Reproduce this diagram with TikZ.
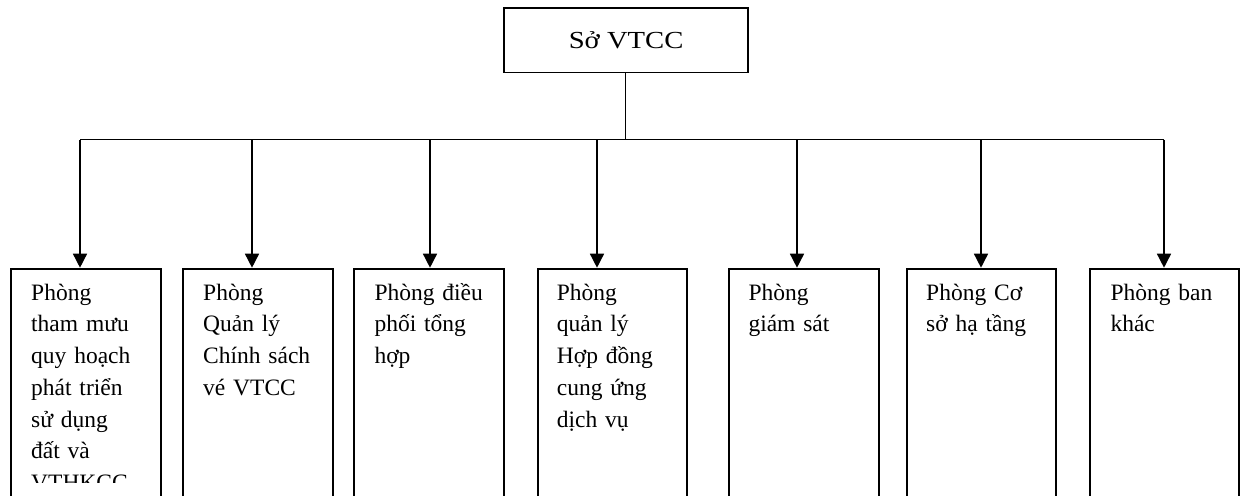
\documentclass[tikz,border=0pt]{standalone}
\usepackage{fontspec}
\setmainfont{Liberation Serif}
\usetikzlibrary{arrows.meta,calc}

\tikzset{
  unitbox/.style={draw, line width=2pt, inner sep=0pt, anchor=north west,
    minimum width=150pt, minimum height=228pt},
  headbox/.style={draw, line width=1.6pt, inner sep=0pt, anchor=north west,
    minimum width=244pt, minimum height=64.5pt,
    font=\fontsize{24.5pt}{31.7pt}\selectfont},
  unittext/.style={inner sep=0pt, anchor=base west, text width=125pt, align=left,
    font=\fontsize{23.5pt}{31.7pt}\selectfont},
  wire/.style={line width=1.5pt},
  feed/.style={line width=1.5pt, -{Triangle[width=14pt,length=14pt]}},
}

\begin{document}
\begin{tikzpicture}[x=1pt, y=-1pt]
  \useasboundingbox (0,0) rectangle (1244,495);
  \clip (0,0) rectangle (1244,495);

  % head office
  \node[headbox] (head) at (503.3,7.3) {\scalebox{1.17}[1]{Sở VTCC}};

  % departments
  \node[unitbox] (b1) at (10,267.7) {};
  \node[unitbox] (b2) at (182,267.7) {};
  \node[unitbox] (b3) at (353.3,267.7) {};
  \node[unitbox, minimum width=149.3pt] (b4) at (536.7,267.7) {};
  \node[unitbox] (b5) at (728.3,267.7) {};
  \node[unitbox, minimum width=149.3pt] (b6) at (906,267.7) {};
  \node[unitbox, minimum width=148.7pt] (b7) at (1089.3,267.7) {};

  % department names
  \begin{scope}
    \clip (0,0) rectangle (1244,482);
    \node[unittext] (t1) at ($(b1.north west)+(21,32.5)$)
      {Phòng\\tham mưu\\quy hoạch\\phát triển\\sử dụng\\đất và\\VTHKCC};
  \end{scope}
  \node[unittext] (t2) at ($(b2.north west)+(21,32.5)$)
    {Phòng\\Quản lý\\Chính sách\\vé VTCC};
  \node[unittext] (t3) at ($(b3.north west)+(21,32.5)$)
    {Phòng điều\\phối tổng\\hợp};
  \node[unittext] (t4) at ($(b4.north west)+(20,32.5)$)
    {Phòng\\quản lý\\Hợp đồng\\cung ứng\\dịch vụ};
  \node[unittext] (t5) at ($(b5.north west)+(20,32.5)$)
    {Phòng\\giám sát};
  \node[unittext] (t6) at ($(b6.north west)+(20,32.5)$)
    {Phòng Cơ\\sở hạ tầng};
  \node[unittext] (t7) at ($(b7.north west)+(21,32.5)$)
    {Phòng ban\\khác};

  % arrow entry points on the department tops
  \coordinate (a1) at (80,267.7);
  \coordinate (a2) at (252,267.7);
  \coordinate (a3) at (430,267.7);
  \coordinate (a4) at (597,267.7);
  \coordinate (a5) at (797,267.7);
  \coordinate (a6) at (981,267.7);
  \coordinate (a7) at (1164,267.7);
  \coordinate (bus) at (625.5,139.5);

  % distribution bus
  \draw[wire] (head.south -| bus) -- (bus);
  \draw[wire] (a1 |- bus) -- (a7 |- bus);
  \foreach \k in {1,...,7}
    \draw[feed] (a\k |- bus) -- (a\k);
\end{tikzpicture}
\end{document}
